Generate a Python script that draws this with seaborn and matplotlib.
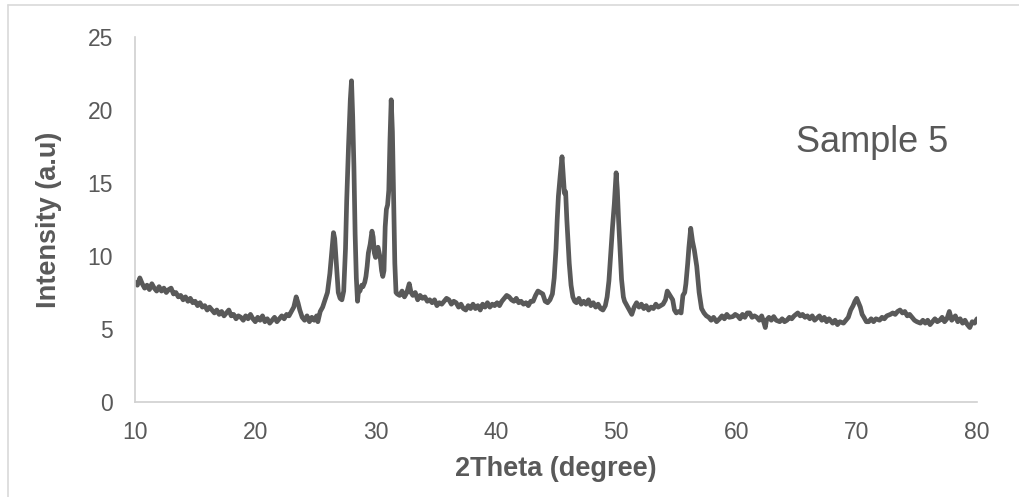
import matplotlib
matplotlib.use("Agg")
import matplotlib.pyplot as plt
import seaborn as sns
from matplotlib.lines import Line2D

two_theta = [
    10.0, 10.2, 10.4, 10.6, 10.8, 11.0, 11.2, 11.4, 11.6, 11.8,
    12.0, 12.2, 12.4, 12.6, 12.8, 13.0, 13.2, 13.4, 13.6, 13.8,
    14.0, 14.2, 14.4, 14.6, 14.8, 15.0, 15.2, 15.4, 15.6, 15.8,
    16.0, 16.2, 16.4, 16.6, 16.8, 17.0, 17.2, 17.4, 17.6, 17.8,
    18.0, 18.2, 18.4, 18.6, 18.8, 19.0, 19.2, 19.4, 19.6, 19.8,
    20.0, 20.2, 20.4, 20.6, 20.8, 21.0, 21.2, 21.4, 21.6, 21.8,
    22.0, 22.2, 22.4, 22.6, 22.8, 23.0, 23.2, 23.4, 23.55, 23.7,
    23.9, 24.1, 24.3, 24.5, 24.7, 24.9, 25.1, 25.2, 25.4, 25.6,
    25.8, 26.0, 26.2, 26.35, 26.5, 26.6, 26.75, 26.9, 27.05, 27.2,
    27.35, 27.5, 27.6, 27.75, 27.9, 28.0, 28.1, 28.2, 28.3, 28.4,
    28.5, 28.6, 28.7, 28.85, 28.95, 29.1, 29.2, 29.3, 29.4, 29.55,
    29.7, 29.8, 29.9, 30.0, 30.1, 30.2, 30.3, 30.4, 30.5, 30.6,
    30.7, 30.8, 30.9, 31.0, 31.1, 31.2, 31.3, 31.4, 31.5, 31.6,
    31.7, 31.8, 32.0, 32.2, 32.4, 32.6, 32.8, 32.95, 33.1, 33.3,
    33.5, 33.7, 33.9, 34.1, 34.3, 34.5, 34.7, 34.9, 35.1, 35.3,
    35.5, 35.7, 35.9, 36.1, 36.3, 36.5, 36.7, 36.9, 37.1, 37.3,
    37.5, 37.7, 37.9, 38.1, 38.3, 38.5, 38.7, 38.9, 39.1, 39.3,
    39.5, 39.7, 39.9, 40.1, 40.3, 40.5, 40.7, 40.9, 41.1, 41.3,
    41.5, 41.7, 41.9, 42.1, 42.3, 42.5, 42.7, 42.9, 43.1, 43.3,
    43.5, 43.7, 43.9, 44.1, 44.3, 44.5, 44.7, 44.85, 45.0, 45.1,
    45.2, 45.35, 45.5, 45.6, 45.7, 45.8, 45.9, 46.0, 46.1, 46.25,
    46.4, 46.55, 46.7, 46.9, 47.1, 47.3, 47.5, 47.7, 47.9, 48.1,
    48.3, 48.5, 48.7, 48.9, 49.1, 49.25, 49.4, 49.55, 49.7, 49.85,
    50.0, 50.1, 50.2, 50.35, 50.45, 50.6, 50.7, 50.9, 51.1, 51.3,
    51.5, 51.7, 51.9, 52.1, 52.3, 52.5, 52.7, 52.9, 53.1, 53.3,
    53.5, 53.7, 53.9, 54.1, 54.25, 54.4, 54.55, 54.7, 54.85, 55.0,
    55.2, 55.4, 55.55, 55.7, 55.8, 55.95, 56.05, 56.2, 56.35, 56.5,
    56.7, 56.9, 57.1, 57.3, 57.5, 57.7, 57.9, 58.1, 58.35, 58.6,
    58.8, 59.0, 59.2, 59.4, 59.7, 59.9, 60.1, 60.3, 60.5, 60.7,
    60.9, 61.1, 61.3, 61.5, 61.7, 61.9, 62.1, 62.3, 62.4, 62.5,
    62.7, 62.9, 63.1, 63.3, 63.6, 63.8, 64.0, 64.2, 64.4, 64.6,
    64.8, 65.1, 65.3, 65.5, 65.7, 65.9, 66.1, 66.3, 66.5, 66.7,
    66.9, 67.1, 67.3, 67.5, 67.7, 68.0, 68.2, 68.4, 68.6, 68.9,
    69.1, 69.3, 69.5, 69.7, 69.85, 70.0, 70.1, 70.3, 70.45, 70.6,
    70.8, 71.0, 71.2, 71.4, 71.6, 71.9, 72.1, 72.3, 72.5, 72.8,
    73.0, 73.2, 73.4, 73.6, 73.8, 74.0, 74.2, 74.4, 74.6, 74.8,
    75.0, 75.3, 75.5, 75.7, 75.9, 76.1, 76.3, 76.5, 76.7, 76.9,
    77.1, 77.3, 77.5, 77.7, 77.9, 78.1, 78.2, 78.4, 78.6, 78.8,
    79.0, 79.2, 79.4, 79.6, 79.8, 80.0,
]

intensity = [
    8.2, 8.0, 8.5, 8.1, 7.8, 8.0, 7.7, 8.1, 7.8, 7.6,
    7.9, 7.6, 7.8, 7.5, 7.7, 7.8, 7.4, 7.5, 7.2, 7.3,
    7.0, 7.2, 6.9, 7.1, 6.8, 6.9, 6.6, 6.8, 6.5, 6.6,
    6.3, 6.5, 6.3, 6.1, 6.3, 6.0, 6.2, 5.9, 6.1, 6.3,
    5.9, 6.0, 5.7, 5.9, 5.8, 5.6, 5.9, 5.7, 6.0, 5.7,
    5.5, 5.8, 5.6, 5.9, 5.5, 5.7, 5.4, 5.6, 5.8, 5.5,
    5.7, 5.9, 5.7, 6.0, 5.9, 6.2, 6.5, 7.2, 6.8, 6.3,
    5.8, 5.6, 5.9, 5.5, 5.8, 5.6, 5.9, 5.5, 6.2, 6.5,
    7.0, 7.5, 8.8, 10.2, 11.6, 11.2, 9.3, 7.5, 7.1, 7.0,
    7.6, 10.5, 13.8, 17.5, 20.7, 22.0, 19.5, 16.1, 11.5, 8.5,
    6.9, 7.8, 7.6, 8.0, 7.9, 8.2, 8.6, 9.3, 10.2, 10.8,
    11.7, 11.3, 10.2, 9.9, 10.4, 10.6, 10.2, 9.8, 9.0, 8.6,
    9.0, 12.0, 13.2, 13.5, 14.5, 18.0, 20.7, 18.5, 13.8, 9.5,
    7.5, 7.4, 7.3, 7.6, 7.2, 7.5, 8.1, 7.5, 7.3, 7.5,
    7.0, 7.3, 7.1, 7.2, 6.9, 7.0, 6.8, 7.0, 6.6, 6.8,
    6.7, 6.9, 7.1, 7.0, 6.7, 6.9, 6.8, 6.5, 6.7, 6.4,
    6.3, 6.6, 6.4, 6.7, 6.4, 6.6, 6.3, 6.7, 6.5, 6.8,
    6.5, 6.7, 6.6, 6.8, 6.6, 6.9, 7.1, 7.3, 7.2, 7.0,
    6.9, 7.1, 6.8, 6.9, 6.7, 6.8, 6.6, 6.9, 6.9, 7.3,
    7.6, 7.5, 7.4, 6.9, 6.8, 7.0, 7.4, 8.5, 10.5, 12.5,
    14.1, 15.5, 16.8, 15.5, 14.3, 14.4, 12.5, 11.0, 9.5, 8.0,
    7.2, 6.9, 6.8, 7.1, 6.7, 6.9, 6.7, 7.0, 6.6, 6.8,
    6.5, 6.7, 6.4, 6.3, 6.6, 7.2, 8.3, 10.2, 12.0, 13.6,
    15.7, 14.5, 12.5, 10.0, 8.4, 7.2, 6.9, 6.6, 6.3, 6.0,
    6.5, 6.8, 6.5, 6.7, 6.4, 6.6, 6.3, 6.5, 6.4, 6.7,
    6.5, 6.6, 6.7, 7.0, 7.6, 7.4, 7.2, 7.0, 6.3, 6.1,
    6.2, 6.1, 7.3, 7.5, 8.1, 9.5, 10.6, 11.9, 11.0, 10.4,
    9.3, 7.5, 6.4, 6.1, 5.9, 5.8, 5.6, 5.8, 5.5, 5.7,
    5.9, 5.7, 6.0, 5.8, 5.85, 6.0, 5.9, 5.7, 6.0, 5.8,
    6.1, 6.1, 5.8, 5.9, 5.8, 5.6, 5.9, 5.4, 5.1, 5.6,
    5.8, 5.6, 5.85, 5.6, 5.5, 5.7, 5.5, 5.6, 5.8, 5.7,
    5.9, 6.1, 5.9, 6.0, 5.8, 5.9, 5.7, 5.9, 5.6, 5.75,
    5.9, 5.6, 5.8, 5.5, 5.7, 5.4, 5.6, 5.3, 5.5, 5.4,
    5.6, 5.8, 6.3, 6.6, 6.9, 7.1, 6.9, 6.5, 6.0, 5.8,
    5.5, 5.5, 5.7, 5.5, 5.7, 5.6, 5.8, 5.7, 5.9, 6.0,
    6.1, 6.0, 6.2, 6.3, 6.1, 6.2, 5.9, 6.0, 5.8, 5.6,
    5.5, 5.4, 5.6, 5.4, 5.6, 5.3, 5.5, 5.7, 5.5, 5.6,
    5.8, 5.5, 5.7, 6.2, 5.6, 5.8, 5.9, 5.5, 5.7, 5.4,
    5.6, 5.3, 5.1, 5.5, 5.4, 5.7,
]

x_ticks = [10, 20, 30, 40, 50, 60, 70, 80]
y_ticks = [0, 5, 10, 15, 20, 25]
x_label = "2Theta (degree)"
y_label = "Intensity (a.u)"
sample_label = "Sample 5"

sns.set_theme(style="white")
plt.rcParams['font.family'] = ['Liberation Sans', 'DejaVu Sans']

W, H = 1019, 497
fig = plt.figure(figsize=(W / 100, H / 100), dpi=100)
ax = fig.add_axes([135 / W, 1 - 402 / H, (977 - 135) / W, (402 - 37) / H])

sns.lineplot(x=two_theta, y=intensity, ax=ax, color="#595959",
             linewidth=3.4, sort=False, estimator=None)

ax.set_xlim(10, 80)
ax.set_ylim(0, 25)
ax.set_xticks(x_ticks)
ax.set_yticks(y_ticks)
ax.tick_params(axis="both", length=0, labelsize=16.5, labelcolor="#595959")
ax.tick_params(axis="y", pad=16)
ax.tick_params(axis="x", pad=14)
for s in ["top", "right"]:
    ax.spines[s].set_visible(False)
for s in ["left", "bottom"]:
    ax.spines[s].set_color("#d0d0d0")
    ax.spines[s].set_linewidth(1.2)
ax.grid(False)

ax.set_xlabel(x_label, fontsize=19.5, fontweight="bold", color="#595959", labelpad=8)
ax.set_ylabel(y_label, fontsize=19.5, fontweight="bold", color="#595959", labelpad=18)

ax.text((948 - 135) / (977 - 135), (402 - 143) / (402 - 37), sample_label,
        transform=ax.transAxes, ha="right", va="center",
        fontsize=26, color="#595959")

# figure border
fig.add_artist(Line2D([8 / W, 8 / W], [0, 1 - 5 / H], transform=fig.transFigure,
                      color="#d9d9d9", linewidth=1.2))
fig.add_artist(Line2D([8 / W, 1], [1 - 5 / H, 1 - 5 / H], transform=fig.transFigure,
                      color="#d9d9d9", linewidth=1.2))

fig.savefig("out.png", dpi=100, facecolor="white")
